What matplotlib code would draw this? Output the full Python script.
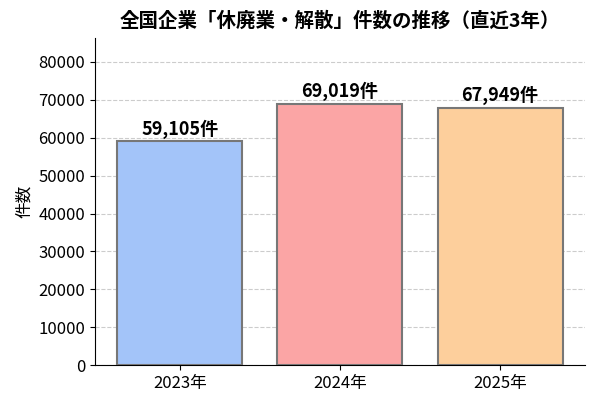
import matplotlib.pyplot as plt

plt.rcParams['font.family'] = ['Noto Sans CJK JP', 'DejaVu Sans']

years = ['2023年', '2024年', '2025年']
counts = [59105, 69019, 67949]
colors = ['#a3c4f9', '#fba5a5', '#fdcf9c']

fig = plt.figure(figsize=(6, 4), dpi=100)
ax = fig.add_axes([0.158, 0.087, 0.817, 0.818])

x = range(len(years))
ax.bar(x, counts, width=0.78, color=colors, edgecolor='#777777', linewidth=1.5, zorder=3)
for i, v in zip(x, counts):
    ax.text(i, v + 600, f'{v:,}件', ha='center', va='bottom', fontsize=13, fontweight='bold')

ax.set_xticks(list(x))
ax.set_xticklabels(years, fontsize=12)
ax.set_xlim(-0.53, 2.53)
ax.set_ylim(0, 86300)
ax.set_yticks(range(0, 80001, 10000))
ax.tick_params(axis='y', labelsize=12)
ax.set_ylabel('件数', fontsize=12)
ax.grid(axis='y', linestyle='--', color='#cccccc', zorder=0)
for s in ['top', 'right']:
    ax.spines[s].set_visible(False)
ax.set_title('全国企業「休廃業・解散」件数の推移（直近3年）', fontsize=14, fontweight='bold', pad=8)

fig.savefig('out.png')
